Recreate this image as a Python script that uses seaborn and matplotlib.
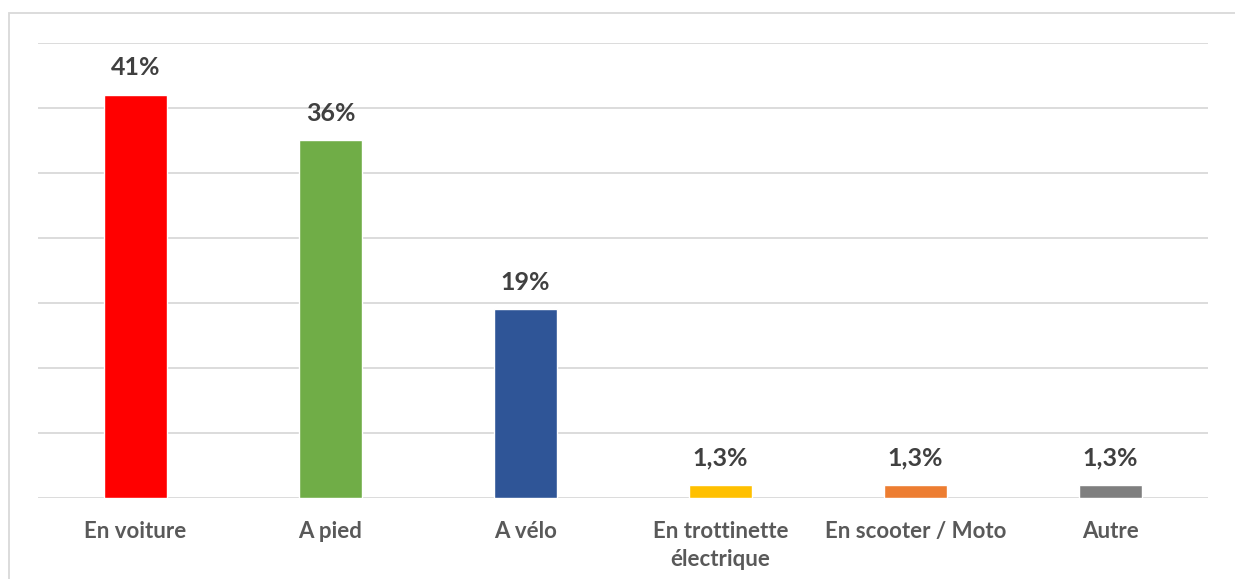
import matplotlib
matplotlib.use("Agg")
import matplotlib.pyplot as plt
import seaborn as sns
import pandas as pd
from matplotlib.patches import Rectangle

# Data (counts, labels as shown)
categories = ["En voiture", "A pied", "A vélo", "En trottinette\nélectrique",
              "En scooter / Moto", "Autre"]
counts = [62, 55, 29, 2, 2, 2]
pct_labels = ["41%", "36%", "19%", "1,3%", "1,3%", "1,3%"]
colors = ["#FF0000", "#70AD47", "#2F5597", "#FFC000", "#ED7D31", "#7F7F7F"]

df = pd.DataFrame({"mode": categories, "count": counts})

sns.set_style("white")
plt.rcParams["font.family"] = ["Lato", "DejaVu Sans"]

fig = plt.figure(figsize=(12.35, 5.79), dpi=100)
W, H = 1235, 579
ax = fig.add_axes([38 / W, (H - 497.5) / H, (1208 - 38) / W, (497.5 - 42.5) / H])

sns.barplot(data=df, x="mode", y="count", hue="mode", palette=colors,
            width=0.32, legend=False, ax=ax, saturation=1)

ax.set_ylim(0, 70)
ax.set_xlim(-0.5, len(categories) - 0.5)
ax.set_yticks(range(0, 71, 10))
ax.yaxis.grid(True, color="#D9D9D9", linewidth=1.3)
ax.set_axisbelow(True)
ax.tick_params(axis="y", left=False, labelleft=False)
ax.tick_params(axis="x", length=0, pad=17)
for lab in ax.get_xticklabels():
    lab.set_fontweight("bold")
    lab.set_fontsize(16)
    lab.set_color("#595959")
    lab.set_verticalalignment("top")
    lab.set_linespacing(1.4)
ax.set_xlabel("")
ax.set_ylabel("")
for s in ax.spines.values():
    s.set_visible(False)

for i, (v, t) in enumerate(zip(counts, pct_labels)):
    ax.annotate(t, (i, v), xytext=(0, 11), textcoords="offset points",
                ha="center", va="bottom", fontsize=18, fontweight="bold",
                color="#404040")

# outer chart border
fig.patches.append(Rectangle((8.5 / W, -0.1), (W + 10) / W, (H - 13) / H + 0.1,
                             transform=fig.transFigure, fill=False,
                             edgecolor="#D9D9D9", linewidth=1.3))

fig.savefig("out.png", dpi=100)
